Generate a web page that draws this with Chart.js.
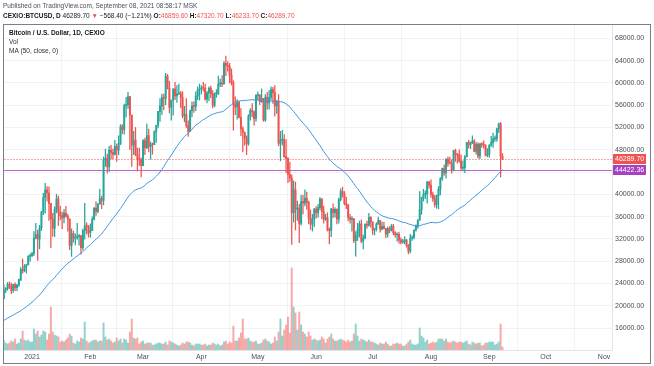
<!DOCTYPE html>
<html>
<head>
<meta charset="utf-8">
<title>BTCUSD 1D</title>
<script src="https://cdn.jsdelivr.net/npm/chart.js@4.4.0/dist/chart.umd.min.js"></script>
<style>
  html, body { margin: 0; padding: 0; background: #ffffff; }
  canvas { display: block; }
</style>
</head>
<body>
<canvas id="chart" width="654" height="366"></canvas>
<script>
// Daily BTCUSD (CEXIO), Dec 17 2020 .. Sep 8 2021
const firstDay = -15; // Dec 17 2020, counted in days from Jan 1 2021

// closes Oct 28 .. Dec 16 2020 (only feed the MA, not drawn)
const warmupCloses = [
  13280, 13450, 13560, 13800,
  13760, 13550, 14030, 14150, 15590, 15580, 14830, 15480, 15330, 15310,
  15700, 16280, 16320, 16070, 15960, 16720, 17650, 17800, 17820, 18670,
  18700, 18420, 18370, 19160, 18730, 17150, 17140, 17720, 18180, 19630,
  18800, 19220, 19450, 18700, 19150, 19360, 19170, 18320, 18550, 18250,
  18030, 18800, 19140, 19250, 19430, 21330
];

const closes = [
  // Dec
  22800, 23140, 23860, 23480, 22750, 23830, 23240, 23730, 24710, 26490, 26280, 27080, 27360, 28860, 28990,
  // Jan
  29370, 32130, 32780, 31970, 33990, 36820, 39370, 40800, 40250, 38360, 35550, 33920, 37320, 39190, 36830, 36180,
  35790, 36630, 36070, 35550, 30830, 32990, 32070, 32290, 32370, 32570, 30430, 33470, 34320, 34270, 33110,
  // Feb
  33520, 35510, 37470, 36930, 38290, 39260, 38900, 46200, 46480, 44920, 47910, 47500, 47180, 48580,
  47940, 49130, 52120, 51600, 55890, 56100, 57540, 54200, 48820, 49700, 47090, 46340, 46190, 45140,
  // Mar
  49630, 48380, 50540, 48560, 48930, 48910, 51200, 52390, 54880, 55860, 57330, 57200, 61190, 59000, 55610, 56900,
  58910, 57650, 58030, 58100, 57350, 54080, 54340, 52300, 51300, 55030, 55850, 55780, 57630, 58730, 58920,
  // Apr
  59100, 59040, 57080, 58180, 59040, 58020, 56000, 58070, 58100, 59770, 59990, 59790, 63500, 63110, 62980,
  61340, 60040, 56150, 55660, 56470, 53820, 51730, 51150, 50110, 49060, 54020, 55030, 54820, 53580, 57750,
  // May
  57830, 56630, 57200, 53330, 57420, 56400, 57360, 58800, 58230, 55860, 56700, 49150, 49720, 49880, 46760, 46430,
  43540, 42910, 36700, 40780, 37300, 37530, 34770, 38700, 38400, 39290, 38530, 35660, 34640, 35650, 37340,
  // Jun
  36690, 37600, 39190, 36880, 35520, 35800, 33590, 33470, 37350, 36700, 37310, 35550, 39020, 40520, 40140,
  38350, 38090, 35820, 35480, 35600, 31680, 32500, 33680, 34660, 31590, 32160, 34640, 34450, 35870, 35040,
  // Jul
  33570, 33890, 34660, 35290, 33750, 34240, 33860, 32880, 33820, 33520, 34260, 33100, 32730, 32820, 31780, 31420,
  31530, 31800, 30840, 29800, 32130, 32290, 33600, 34290, 35380, 37270, 39460, 40000, 40030, 42240, 41630,
  // Aug
  39970, 39200, 38150, 39750, 40870, 42830, 44630, 43830, 46290, 45600, 45580, 44430, 47830, 47100, 47060, 45970,
  44700, 44800, 46720, 49340, 48900, 49320, 49550, 47710, 48990, 46850, 49070, 48900, 48810, 46990, 47170,
  // Sep
  48850, 49300, 49940, 49940, 51760, 52660, 46858.1, 46289.7
];

const highs = [
  23770, 23280, 24170, 24280, 24080, 23850, 24100, 23790, 24780, 26860, 28390, 27390, 27410, 28980, 29300,
  29600, 33300, 34780, 33600, 34440, 36940, 40180, 41950, 41380, 41330, 38300, 36600, 37770, 40000, 39700, 37900,
  36800, 37300, 37850, 36400, 35600, 33800, 33400, 32900, 34800, 32800, 32550, 33750, 38400, 34900, 34400,
  34700, 35950, 37650, 38700, 38300, 40900, 39700, 46700, 48100, 47200, 48600, 48800, 48100, 49700,
  49000, 50500, 52500, 52500, 56200, 57400, 58300, 57500, 54200, 51300, 52000, 48300, 48300, 46500,
  49800, 50100, 52600, 51700, 49400, 49200, 51400, 52400, 54900, 57200, 58000, 58000, 61700, 61500, 60300, 56900,
  58900, 60100, 59500, 59800, 58500, 58400, 55800, 57200, 53200, 55100, 56600, 56600, 58400, 59300, 59800,
  59500, 60100, 59800, 58500, 59300, 59400, 58600, 58200, 58800, 61200, 60700, 61300, 63800, 64800, 63800,
  63500, 62500, 60400, 57500, 57000, 56700, 55400, 52100, 51100, 50500, 54300, 55400, 56300, 55000, 57900,
  58400, 57900, 58900, 57100, 57900, 58300, 58600, 59300, 59200, 59500, 56800, 57900, 51300, 51500, 50700, 49800,
  46600, 45800, 43500, 42400, 42200, 38800, 38200, 39800, 39800, 40800, 40400, 38800, 37200, 36400, 37500,
  37800, 38200, 39400, 39200, 37900, 36400, 36700, 34000, 37500, 38300, 37600, 37400, 39300, 41000, 41300,
  40500, 39500, 38200, 36400, 36000, 35700, 33300, 34800, 35200, 35400, 32700, 34700, 35200, 36600, 36000,
  35000, 33900, 34900, 35900, 35300, 35000, 35000, 33900, 34100, 34200, 34600, 34600, 33300, 33100, 33200, 32200,
  31900, 32400, 31900, 31000, 32800, 32600, 33600, 34500, 35400, 40500, 39500, 40900, 40600, 42300, 42300,
  42600, 40400, 39800, 39900, 41400, 43000, 44700, 45300, 46400, 46700, 46700, 46200, 47900, 48100, 47300, 48000,
  47100, 46000, 47000, 49300, 49700, 49400, 50500, 49800, 49300, 49300, 49100, 49300, 49600, 48900, 48200,
  48900, 50400, 51000, 50500, 51900, 52800, 52900, 47320.7
];

const lows = [
  21230, 22350, 22780, 23060, 22170, 22370, 22700, 22710, 23460, 24510, 25840, 26080, 25880, 27320, 28000,
  28800, 29000, 32000, 28130, 30220, 33510, 36360, 36600, 38750, 35300, 30400, 32500, 32400, 36650, 34400, 35400,
  33850, 34850, 35900, 33400, 30070, 28850, 31400, 30900, 31900, 30850, 29250, 30000, 31950, 32850, 32300,
  32300, 33450, 35400, 36200, 36650, 38200, 37400, 38100, 45000, 43800, 44100, 46300, 46400, 47000,
  45900, 47100, 48900, 50900, 50800, 53900, 55400, 48000, 45000, 47100, 46900, 44200, 45200, 43100,
  45100, 47100, 48200, 47600, 46300, 47200, 48900, 49300, 51900, 53100, 54300, 55200, 56100, 58900, 54600, 53300,
  54200, 57000, 56500, 57900, 55500, 53700, 53000, 52000, 50400, 51300, 53900, 54700, 55000, 57000, 56900,
  58000, 58500, 56900, 56400, 56800, 57300, 55500, 55700, 57400, 57900, 59300, 59300, 59800, 61300, 62100,
  60000, 59600, 51500, 54300, 53500, 53700, 50500, 47600, 48800, 47100, 48800, 53300, 53900, 52400, 53100,
  57000, 56100, 56500, 53100, 53100, 55300, 55300, 56900, 56300, 54000, 54500, 48700, 46000, 48800, 46600, 43900,
  42100, 42300, 31000, 35000, 33600, 35300, 31300, 34500, 36500, 37900, 37300, 34700, 33700, 33400, 34200,
  35700, 35900, 37200, 35600, 34800, 35300, 33400, 31100, 32400, 35800, 35900, 34700, 34800, 38800, 39500,
  38100, 37400, 35200, 34800, 33400, 31300, 28900, 31700, 32300, 31300, 30200, 32000, 33900, 34300, 34100,
  32800, 32700, 33400, 34600, 33200, 33600, 33800, 32200, 32300, 33100, 33400, 32700, 32300, 31600, 31200, 31100,
  31200, 31100, 30500, 29300, 29500, 31700, 32000, 33400, 33900, 35300, 36400, 38800, 39200, 38400, 41100,
  39500, 38700, 37700, 37500, 37400, 39900, 42500, 43400, 42900, 45000, 45400, 43800, 44200, 45900, 45600, 45700,
  44400, 44200, 43900, 46700, 48300, 48200, 49100, 47600, 47200, 46500, 46400, 48400, 48300, 46900, 46700,
  46600, 48600, 48400, 49500, 49500, 51100, 43100, 46233.7
];

// volume, BTC
const volumes = [
  1000, 700, 600, 700, 900, 800, 1100, 600, 700, 1100, 1900, 1000, 900, 1000, 800,
  800, 2100, 1600, 1900, 1300, 1500, 1900, 1800, 1000, 1600, 4300, 1800, 1500, 1400, 1300, 800,
  900, 800, 1000, 1200, 1600, 1400, 700, 600, 900, 800, 1200, 1100, 2800, 900, 700,
  800, 900, 1000, 1000, 800, 900, 900, 2700, 1300, 1000, 1100, 900, 700, 800,
  1200, 900, 1100, 700, 1100, 1000, 700, 1800, 3100, 1200, 1100, 1200, 600, 800,
  900, 600, 700, 700, 700, 500, 500, 600, 700, 700, 600, 600, 800, 500, 900, 800,
  700, 600, 500, 400, 500, 700, 600, 800, 800, 700, 500, 400, 600, 600, 600,
  500, 500, 600, 400, 500, 500, 700, 600, 500, 600, 400, 500, 800, 900, 600,
  800, 700, 2400, 900, 900, 1200, 1700, 3100, 1100, 1100, 1200, 900, 800, 800, 900,
  600, 600, 700, 1000, 1100, 900, 800, 600, 700, 1300, 900, 1800, 3100, 1400, 2000, 2500,
  3300, 1700, 8200, 4300, 3700, 2000, 3800, 2500, 1800, 1600, 1300, 1800, 1400, 1000, 1100,
  1000, 900, 1000, 1300, 1100, 700, 1100, 1300, 1600, 1100, 900, 900, 1000, 1100, 1000,
  900, 800, 1000, 800, 900, 1600, 2600, 1400, 900, 1100, 1000, 900, 800, 1000, 800,
  800, 700, 600, 500, 700, 600, 600, 800, 600, 400, 400, 600, 600, 700, 600, 600,
  400, 400, 600, 800, 1000, 600, 500, 500, 600, 2200, 1400, 1200, 800, 1000, 600,
  700, 800, 700, 800, 1100, 1100, 1100, 900, 1100, 800, 700, 800, 900, 800, 700, 800,
  800, 700, 800, 900, 600, 500, 800, 700, 600, 700, 700, 400, 500, 700, 700,
  800, 800, 800, 500, 600, 800, 2600, 300
];

const monthTicks = [0, 31, 59, 90, 120, 151, 181, 212, 243, 273, 304];
const monthLabels = ['2021', 'Feb', 'Mar', 'Apr', 'May', 'Jun', 'Jul', 'Aug', 'Sep', 'Oct', 'Nov'];
const priceTicks = [16000, 20000, 24000, 28000, 32000, 36000, 40000, 44000, 48000, 52000, 56000, 60000, 64000, 68000];

const lastPrice = 46289.70;
const maLast = 44422.36;
const maLength = 50;

const publishedText = 'Published on TradingView.com, September 08, 2021 08:58:17 MSK';
const symbolText = 'CEXIO:BTCUSD, D';
const changeText = '\u2212568.40 (\u22121.21%)';
const ohlcText = [['O:', '46859.60'], ['H:', '47320.70'], ['L:', '46233.70'], ['C:', '46289.70']];
const legendLines = ['Bitcoin / U.S. Dollar, 1D, CEXIO', 'Vol', 'MA (50, close, 0)'];

const UP = '#26a69a';
const DOWN = '#ef5350';
const UP_VOL = 'rgba(38,166,154,0.5)';
const DOWN_VOL = 'rgba(239,83,80,0.5)';
const PURPLE = '#a742bf';
const FONT = "'Liberation Sans', Arial, sans-serif";

// build candles
const opens = closes.map((c, i) => i === 0 ? warmupCloses[warmupCloses.length - 1] : closes[i - 1]);
const isUp = closes.map((c, i) => c >= opens[i]);
const bodies = closes.map((c, i) => ({ x: firstDay + i, y: [opens[i], c] }));
const wicks = closes.map((c, i) => ({
    x: firstDay + i,
    y: [Math.min(lows[i], opens[i], c), Math.max(highs[i], opens[i], c)]
}));
const volBars = volumes.map((v, i) => ({ x: firstDay + i, y: v }));

const allCloses = warmupCloses.concat(closes);
const maPoints = closes.map((c, i) => {
    const end = warmupCloses.length + i;
    let sum = 0;
    for (let k = end - maLength + 1; k <= end; k++) sum += allCloses[k];
    return { x: firstDay + i, y: sum / maLength };
});

const candleColors = isUp.map(u => u ? UP : DOWN);
const volColors = isUp.map(u => u ? UP_VOL : DOWN_VOL);

const overlay = {
    id: 'overlay',
    beforeDatasetsDraw(chart) {
        const { ctx, chartArea: a, scales: { y } } = chart;
        ctx.save();
        // last price, light pink dotted
        let py = Math.round(y.getPixelForValue(lastPrice));
        ctx.fillStyle = '#f6a9a7';
        for (let px = Math.ceil(a.left); px < a.right; px += 3) {
            ctx.fillRect(px, py, 2, 1);
        }
        // MA last value line
        py = Math.round(y.getPixelForValue(maLast));
        ctx.fillStyle = 'rgba(167,66,191,0.8)';
        ctx.fillRect(a.left, py, a.right - a.left, 1);
        ctx.restore();
    },
    afterDraw(chart) {
        const { ctx, chartArea: a, scales: { y } } = chart;
        ctx.save();

        // frame
        ctx.strokeStyle = '#7b7e86';
        ctx.lineWidth = 1;
        ctx.strokeRect(3.5, 24.5, 647, 339);

        // header
        ctx.textBaseline = 'middle';
        ctx.textAlign = 'left';
        ctx.fillStyle = '#4a4e59';
        ctx.font = '6.5px ' + FONT;
        ctx.fillText(publishedText, 3, 6);

        let x = 3;
        const put = (txt, font, color) => {
            ctx.font = font;
            ctx.fillStyle = color;
            ctx.fillText(txt, x, 16);
            x += ctx.measureText(txt).width;
        };
        put(symbolText + ' ', 'bold 6.5px ' + FONT, '#131722');
        put(lastPrice.toFixed(2) + ' ', '6.5px ' + FONT, '#131722');
        put('\u25BC ', '6.5px ' + FONT, DOWN);
        put(changeText + ' ', '6.5px ' + FONT, '#131722');
        ohlcText.forEach(([k, v]) => {
            put(k, 'bold 6.5px ' + FONT, '#131722');
            put(v + ' ', '6.5px ' + FONT, DOWN);
        });

        // legend inside pane
        ctx.fillStyle = '#131722';
        ctx.font = 'bold 6.5px ' + FONT;
        ctx.fillText(legendLines[0], 9, 33);
        ctx.font = '6.5px ' + FONT;
        ctx.fillStyle = '#2a2e39';
        ctx.fillText(legendLines[1], 9, 42);
        ctx.fillText(legendLines[2], 9, 51);

        // price labels on the axis
        const tag = (val, color) => {
            const cy = y.getPixelForValue(val);
            ctx.fillStyle = color;
            ctx.fillRect(a.right + 1, Math.round(cy - 5), 33, 10);
            ctx.fillStyle = '#ffffff';
            ctx.font = '7px ' + FONT;
            ctx.fillText(val.toFixed(2), a.right + 3, cy);
        };
        tag(lastPrice, DOWN);
        tag(maLast, PURPLE);
        ctx.restore();
    }
};

const gridColor = 'rgba(42,46,57,0.06)';

new Chart(document.getElementById('chart'), {
    type: 'bar',
    data: {
        datasets: [
            {
                label: 'MA (50, close, 0)',
                type: 'line',
                data: maPoints,
                borderColor: '#3d95e0',
                borderWidth: 1,
                pointRadius: 0,
                tension: 0,
                yAxisID: 'y',
                order: 1
            },
            {
                label: 'Body',
                data: bodies,
                backgroundColor: candleColors,
                barThickness: 1.3,
                minBarLength: 1,
                grouped: false,
                yAxisID: 'y',
                order: 2
            },
            {
                label: 'Wick',
                data: wicks,
                backgroundColor: candleColors,
                barThickness: 0.6,
                grouped: false,
                yAxisID: 'y',
                order: 3
            },
            {
                label: 'Vol',
                data: volBars,
                backgroundColor: volColors,
                barThickness: 1.3,
                grouped: false,
                yAxisID: 'yVol',
                order: 4
            }
        ]
    },
    options: {
        responsive: false,
        animation: false,
        devicePixelRatio: 1,
        layout: { padding: { left: 4, right: 4, top: 24, bottom: 2 } },
        plugins: {
            legend: { display: false },
            tooltip: { enabled: false }
        },
        scales: {
            x: {
                type: 'linear',
                min: -14.9,
                max: 308.2,
                offset: false,
                grid: { color: gridColor, drawTicks: false },
                border: { color: '#e0e3eb' },
                ticks: {
                    autoSkip: false,
                    maxRotation: 0,
                    padding: 3,
                    color: '#4a4e59',
                    font: { family: FONT, size: 7 },
                    callback: v => monthLabels[monthTicks.indexOf(v)]
                },
                afterBuildTicks: s => { s.ticks = monthTicks.map(v => ({ value: v })); },
                afterFit: s => { s.height = 14; }
            },
            y: {
                position: 'right',
                min: 12055,
                max: 70564,
                grid: { color: gridColor, drawTicks: false },
                border: { color: '#e0e3eb' },
                ticks: {
                    padding: 3,
                    color: '#4a4e59',
                    font: { family: FONT, size: 7 },
                    callback: v => v.toFixed(2)
                },
                afterBuildTicks: s => { s.ticks = priceTicks.map(v => ({ value: v })); },
                afterFit: s => { s.width = 38; }
            },
            yVol: {
                display: false,
                min: 0,
                max: 32600
            }
        }
    },
    plugins: [overlay]
});
</script>
</body>
</html>
